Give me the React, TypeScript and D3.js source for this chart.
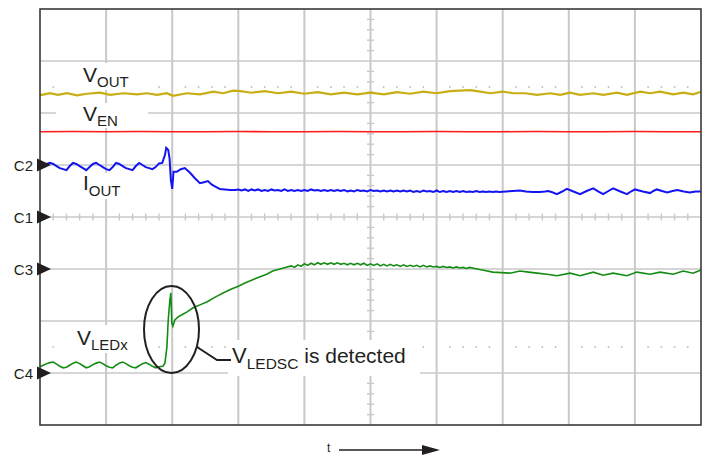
import React from "react";
import * as d3 from "d3";

// ---- data (time in divisions 0..10, amplitude in divisions, 0 = screen centre) ----
const vOut: [number, number][] = [
  [0.0, 2.35], [0.03, 2.35], [0.15, 2.38], [0.27, 2.35], [0.41, 2.38], [0.56, 2.34], [0.71, 2.37],
  [0.91, 2.39], [1.06, 2.35], [1.26, 2.38], [1.47, 2.36], [1.62, 2.38], [1.77, 2.35], [1.92, 2.38],
  [2.01, 2.33], [2.22, 2.38], [2.42, 2.36], [2.62, 2.41], [2.77, 2.38], [2.92, 2.43], [3.03, 2.42],
  [3.2, 2.39], [3.4, 2.42], [3.6, 2.38], [3.8, 2.41], [4.0, 2.37], [4.2, 2.4], [4.4, 2.36], [4.6, 2.39],
  [4.8, 2.36], [5.0, 2.39], [5.2, 2.36], [5.4, 2.4], [5.6, 2.37], [5.8, 2.41], [6.0, 2.38], [6.2, 2.42],
  [6.35, 2.43], [6.51, 2.44], [6.66, 2.41], [6.81, 2.38], [7.0, 2.41], [7.16, 2.38], [7.34, 2.38],
  [7.52, 2.35], [7.72, 2.38], [7.87, 2.35], [8.02, 2.39], [8.17, 2.35], [8.37, 2.38], [8.52, 2.35],
  [8.73, 2.39], [8.88, 2.35], [9.08, 2.41], [9.23, 2.38], [9.38, 2.41], [9.58, 2.36], [9.73, 2.39],
  [9.88, 2.36], [10.0, 2.41],
];

const vEn: [number, number][] = [
  [0.0, 1.64], [0.5, 1.645], [1.0, 1.64], [1.5, 1.645], [2.0, 1.64], [2.5, 1.64], [3.0, 1.645],
  [3.5, 1.64], [4.0, 1.64], [4.5, 1.645], [5.0, 1.64], [5.5, 1.64], [6.0, 1.645], [6.5, 1.64],
  [7.0, 1.64], [7.5, 1.645], [8.0, 1.64], [8.5, 1.64], [9.0, 1.645], [9.5, 1.64], [10.0, 1.64],
];

const iOut: [number, number][] = [
  [0.0, 1.0], [0.05, 1.0], [0.1, 1.02], [0.15, 1.04], [0.2, 1.02], [0.25, 0.98], [0.3, 0.94], [0.35, 0.92],
  [0.4, 0.9], [0.45, 0.98], [0.5, 1.04], [0.55, 1.02], [0.6, 0.98], [0.65, 0.94], [0.7, 0.9], [0.75, 0.96],
  [0.8, 1.02], [0.85, 1.04], [0.9, 1.0], [0.95, 0.96], [1.0, 0.92], [1.05, 0.9], [1.1, 0.96], [1.15, 1.04],
  [1.2, 1.02], [1.25, 0.98], [1.3, 0.94], [1.35, 0.92], [1.4, 0.9], [1.45, 0.98], [1.5, 1.04], [1.55, 1.0],
  [1.6, 0.96], [1.65, 0.94], [1.7, 0.92], [1.75, 0.96], [1.8, 1.03], [1.85, 1.04],
  [1.89, 1.19], [1.91, 1.33], [1.94, 1.29], [1.96, 1.13], [1.98, 0.71], [2.0, 0.54], [2.02, 0.87],
  [2.07, 0.87], [2.13, 0.92], [2.19, 0.94], [2.27, 0.85], [2.34, 0.75], [2.42, 0.65], [2.48, 0.67],
  [2.54, 0.69], [2.6, 0.62], [2.66, 0.58], [2.72, 0.54], [2.8, 0.53], [2.88, 0.52], [2.95, 0.52],
  [3.0, 0.53], [3.05, 0.51], [3.1, 0.53], [3.15, 0.5], [3.2, 0.53], [3.25, 0.51], [3.3, 0.53], [3.35, 0.5],
  [3.4, 0.52], [3.45, 0.5], [3.5, 0.53], [3.55, 0.51], [3.6, 0.52], [3.65, 0.5], [3.7, 0.53], [3.75, 0.5],
  [3.8, 0.52], [3.85, 0.5], [3.9, 0.52], [3.95, 0.5], [4.0, 0.52], [4.05, 0.5], [4.1, 0.53], [4.15, 0.51],
  [4.2, 0.52], [4.25, 0.5], [4.3, 0.52], [4.35, 0.5], [4.4, 0.52], [4.45, 0.5], [4.5, 0.52], [4.55, 0.5],
  [4.6, 0.52], [4.65, 0.49], [4.7, 0.51], [4.75, 0.49], [4.8, 0.52], [4.85, 0.5], [4.9, 0.51], [4.95, 0.49],
  [5.0, 0.52], [5.05, 0.5], [5.1, 0.51], [5.15, 0.49], [5.2, 0.51], [5.25, 0.49], [5.3, 0.51], [5.35, 0.49],
  [5.4, 0.51], [5.45, 0.49], [5.5, 0.51], [5.55, 0.49], [5.6, 0.51], [5.65, 0.48], [5.7, 0.5], [5.75, 0.48],
  [5.8, 0.51], [5.85, 0.49], [5.9, 0.5], [5.95, 0.48], [6.0, 0.51], [6.05, 0.48], [6.1, 0.5], [6.15, 0.48],
  [6.2, 0.5], [6.25, 0.48], [6.3, 0.5], [6.35, 0.48], [6.4, 0.5], [6.45, 0.48], [6.5, 0.49], [6.55, 0.48],
  [6.6, 0.5], [6.65, 0.48], [6.7, 0.49], [6.75, 0.48], [6.8, 0.49], [6.85, 0.48], [6.9, 0.49], [6.95, 0.48],
  [7.05, 0.49], [7.15, 0.5], [7.26, 0.51], [7.35, 0.49], [7.45, 0.48], [7.56, 0.48], [7.64, 0.49],
  [7.69, 0.5], [7.76, 0.47], [7.82, 0.44], [7.9, 0.49], [7.97, 0.54], [8.07, 0.49], [8.17, 0.44],
  [8.27, 0.5], [8.37, 0.55], [8.45, 0.49], [8.52, 0.44], [8.6, 0.5], [8.67, 0.55], [8.78, 0.49],
  [8.88, 0.44], [8.94, 0.49], [9.0, 0.53], [9.12, 0.49], [9.23, 0.46], [9.28, 0.5], [9.33, 0.53],
  [9.41, 0.5], [9.49, 0.47], [9.57, 0.5], [9.64, 0.52], [9.74, 0.49], [9.83, 0.47], [9.92, 0.49], [10.0, 0.49],
];

const vLed: [number, number][] = [
  [0.0, -2.88], [0.05, -2.85], [0.1, -2.82], [0.15, -2.8], [0.2, -2.79], [0.25, -2.83], [0.3, -2.87],
  [0.35, -2.9], [0.4, -2.89], [0.45, -2.85], [0.5, -2.81], [0.55, -2.79], [0.6, -2.82], [0.65, -2.86],
  [0.7, -2.9], [0.75, -2.88], [0.8, -2.84], [0.85, -2.81], [0.9, -2.79], [0.95, -2.82], [1.0, -2.86],
  [1.05, -2.89], [1.1, -2.9], [1.15, -2.85], [1.2, -2.81], [1.25, -2.79], [1.3, -2.82], [1.35, -2.86],
  [1.4, -2.89], [1.45, -2.9], [1.5, -2.86], [1.55, -2.82], [1.6, -2.8], [1.65, -2.83], [1.7, -2.87],
  [1.75, -2.9], [1.8, -2.88],
  [1.86, -2.87], [1.89, -2.81], [1.92, -2.5], [1.94, -1.98], [1.965, -1.6], [1.98, -1.46], [1.995, -2.04],
  [2.01, -2.1], [2.04, -1.98], [2.09, -1.92], [2.16, -1.87], [2.22, -1.83], [2.31, -1.75], [2.42, -1.69],
  [2.53, -1.63], [2.65, -1.54], [2.77, -1.46], [2.87, -1.4], [3.0, -1.33], [3.1, -1.27], [3.21, -1.21],
  [3.33, -1.15], [3.43, -1.1], [3.52, -1.04], [3.63, -1.0], [3.74, -0.96],
  [3.8, -0.94], [3.85, -0.97], [3.9, -0.92], [3.95, -0.95], [4.0, -0.9], [4.05, -0.93], [4.1, -0.89],
  [4.15, -0.92], [4.2, -0.88], [4.25, -0.91], [4.3, -0.88], [4.35, -0.91], [4.4, -0.88], [4.45, -0.91],
  [4.5, -0.88], [4.55, -0.91], [4.6, -0.89], [4.65, -0.92], [4.7, -0.89], [4.75, -0.92], [4.8, -0.89],
  [4.85, -0.92], [4.9, -0.89], [4.95, -0.93], [5.0, -0.9], [5.05, -0.93], [5.1, -0.9], [5.15, -0.94],
  [5.2, -0.91], [5.25, -0.94], [5.3, -0.91], [5.35, -0.94], [5.4, -0.92], [5.45, -0.95], [5.5, -0.92],
  [5.55, -0.95], [5.6, -0.93], [5.65, -0.95], [5.7, -0.93], [5.75, -0.96], [5.8, -0.93], [5.85, -0.96],
  [5.9, -0.94], [5.95, -0.96], [6.0, -0.95], [6.05, -0.97], [6.1, -0.95], [6.15, -0.97], [6.2, -0.96],
  [6.25, -0.98], [6.3, -0.96], [6.35, -0.98], [6.4, -0.97], [6.45, -0.99], [6.5, -0.97],
  [6.61, -1.0], [6.73, -1.03], [6.85, -1.06], [6.98, -1.07], [7.11, -1.08], [7.26, -1.04], [7.39, -1.06],
  [7.52, -1.08], [7.67, -1.1], [7.82, -1.13], [8.02, -1.08], [8.17, -1.13], [8.37, -1.06], [8.52, -1.12],
  [8.67, -1.08], [8.88, -1.13], [9.03, -1.06], [9.23, -1.1], [9.38, -1.06], [9.58, -1.1], [9.73, -1.04],
  [9.88, -1.08], [10.0, -1.02],
];

const channelNames = ["C2", "C1", "C3", "C4"];
const channelLevels = [1, 0, -1, -3];

// ---- layout ----
const W = 706;
const H = 455;
const L = 40, R = 701, T = 9, B = 425;

const x = d3.scaleLinear().domain([0, 10]).range([L, R]);
const y = d3.scaleLinear().domain([-4, 4]).range([B, T]);

const line = d3
  .line<[number, number]>()
  .x((d) => x(d[0]))
  .y((d) => y(d[1]))
  .curve(d3.curveLinear);

const FONT = "'Liberation Sans', Arial, Helvetica, sans-serif";
const TXT = "#231f20";
const GRID = "#c9c9c9";

export default function App() {
  const vGrid = d3.range(1, 10);
  const hGrid = d3.range(-3, 4);
  const hTicks = d3.range(1, 50).filter((k) => k % 5 !== 0).map((k) => k / 5);
  const vTicks = d3.range(1, 40).filter((k) => k % 5 !== 0).map((k) => -4 + k / 5);
  const dotRows = [2.5, -2.5];
  const dotXs = d3.range(1, 50).filter((k) => k % 5 !== 0).map((k) => k / 5);

  return (
    <div style={{ position: "fixed", left: 0, top: 0, width: W, height: H, background: "#fff" }}>
      <svg width={W} height={H} style={{ display: "block" }} fontFamily={FONT}>
        <rect x={0} y={0} width={W} height={H} fill="#fff" />
        {/* grid */}
        {vGrid.map((g) => (
          <line key={"v" + g} x1={x(g)} x2={x(g)} y1={T} y2={B} stroke={GRID} strokeWidth={2} />
        ))}
        {hGrid.map((g) => (
          <line key={"h" + g} x1={L} x2={R} y1={y(g)} y2={y(g)} stroke={GRID} strokeWidth={1.6} />
        ))}
        {hTicks.map((t) => (
          <line key={"ht" + t} x1={x(t)} x2={x(t)} y1={y(0) - 3.5} y2={y(0) + 3.5} stroke={GRID} strokeWidth={1.4} />
        ))}
        {vTicks.map((t) => (
          <line key={"vt" + t} x1={x(5) - 3.5} x2={x(5) + 3.5} y1={y(t)} y2={y(t)} stroke={GRID} strokeWidth={1.4} />
        ))}
        {dotRows.map((r) =>
          dotXs.map((t) => (
            <circle key={"d" + r + "_" + t} cx={x(t)} cy={y(r)} r={0.9} fill="#bdbdbd" />
          ))
        )}

        {/* label backgrounds */}
        <rect x={56} y={63} width={94} height={27} fill="#fff" />
        <rect x={56} y={103} width={92} height={25} fill="#fff" />
        <rect x={78} y={173} width={48} height={26} fill="#fff" />
        <rect x={60} y={325} width={90} height={28} fill="#fff" />
        <rect x={228} y={340} width={192} height={36} fill="#fff" />

        {/* traces */}
        <path d={line(vEn) || ""} fill="none" stroke="#ff1a1a" strokeWidth={1.6} />
        <path d={line(vOut) || ""} fill="none" stroke="#c8ae14" strokeWidth={2.2} />
        <path d={line(iOut) || ""} fill="none" stroke="#1414f0" strokeWidth={2} />
        <path d={line(vLed) || ""} fill="none" stroke="#148c14" strokeWidth={1.6} />

        {/* annotation */}
        <ellipse cx={171.5} cy={329.5} rx={27.5} ry={43.5} fill="none" stroke="#231f20" strokeWidth={2} />
        <polyline points="197,347 217,360 231,360" fill="none" stroke="#231f20" strokeWidth={2} />

        {/* labels */}
        <text x={83} y={82} fill={TXT} fontSize={21}>
          V<tspan fontSize={15} dy={5}>OUT</tspan>
        </text>
        <text x={83} y={121} fill={TXT} fontSize={21}>
          V<tspan fontSize={15} dy={5}>EN</tspan>
        </text>
        <text x={83} y={190} fill={TXT} fontSize={21}>
          I<tspan fontSize={15} dy={6}>OUT</tspan>
        </text>
        <text x={77} y={345} fill={TXT} fontSize={21}>
          V<tspan fontSize={15} dy={5}>LEDx</tspan>
        </text>
        <text x={232} y={363} fill={TXT} fontSize={22}>
          V<tspan fontSize={15.5} dy={6}>LEDSC</tspan>
          <tspan fontSize={21} dy={-6}> is detected</tspan>
        </text>

        {/* frame */}
        <rect x={L} y={T} width={R - L} height={B - T} fill="none" stroke="#3a3a3a" strokeWidth={1.6} />

        {/* channel markers */}
        {channelLevels.map((lv, i) => (
          <g key={channelNames[i]}>
            <polygon
              points={`37,${y(lv) - 6.5} 37,${y(lv) + 6.5} 51,${y(lv)}`}
              fill="#231f20"
            />
            <text x={33} y={y(lv) + 5.5} textAnchor="end" fill={TXT} fontSize={15}>
              {channelNames[i]}
            </text>
          </g>
        ))}

        {/* time arrow */}
        <text x={327} y={452} fill={TXT} fontSize={12}>t</text>
        <line x1={339} x2={425} y1={450} y2={450} stroke="#231f20" strokeWidth={1.5} />
        <polygon points="422,445 440,450 422,455" fill="#231f20" />
      </svg>
    </div>
  );
}
